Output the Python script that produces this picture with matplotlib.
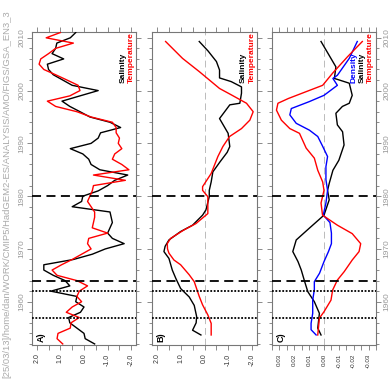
import numpy as np
import matplotlib
matplotlib.use("Agg")
import matplotlib.pyplot as plt
from matplotlib.ticker import MultipleLocator, FormatStrFormatter

plt.rcParams['font.family'] = ['Liberation Sans', 'DejaVu Sans']
plt.rcParams['axes.unicode_minus'] = False

# ---- panel A: annual anomalies
years_a = np.arange(1952, 2012)
sal_a = [-0.45, -0.05, 0.0, 0.3, 0.6, 0.65, 0.15, 0.0, 0.35, 0.3,
         1.4, 0.6, 0.8, 1.3, 1.7, 1.7, 0.45, -0.35, -0.9, -1.7,
         -1.2, -1.0, -1.1, -1.2, -1.15, -1.1, 0.5, 0.1, 0.05, -0.6,
         -1.0, -1.3, -1.85, -0.67, -0.3, -0.2, 0.05, 0.58, -0.3, -0.6,
         -0.7, -1.55, -1.1, -0.25, 0.17, 0.6, 0.93, 0.17, -0.6, 0.5,
         0.9, 1.3, 1.5, 1.55, 0.86, 1.35, 1.2, 1.15, 0.58, 0.35]
temp_a = [0.9, 1.14, 1.1, 0.58, 0.55, 0.2, 0.75, 0.5, 0.1, 0.3,
          0.2, -0.15, 0.3, 1.14, 1.35, 0.95, 0.5, 0.1, -0.3, -0.15,
          -0.2, -1.0, -0.35, -0.4, -0.45, -0.45, -0.3, -0.15, -0.25, -0.35,
          -0.4, -1.75, -0.4, -1.9, -1.6, -1.2, -1.3, -1.6, -1.45, -1.5,
          -1.36, -1.36, -1.2, -0.3, 0.3, 1.2, 1.55, 0.6, 0.17, 0.25,
          0.72, 1.2, 1.7, 1.9, 1.83, 1.5, 1.2, 0.45, 1.6, 1.0]

# ---- panel B: smoothed
years_b_sal = [1953.7, 1954.6, 1956, 1957.2, 1959.3, 1960.9, 1962.5, 1964.4, 1966,
               1968.2, 1969.5, 1970.5, 1971.7, 1973.3, 1974.5, 1976.4, 1977.4,
               1979.9, 1981.1, 1982.7, 1984.6, 1986.5, 1988.3, 1989.4, 1991.9,
               1994.7, 1997.3, 1997.6, 1999.5, 2000.7, 2001.7, 2002.4, 2003.9,
               2005.5, 2007.5, 2009.3]
sal_b = [0.15, 0.5, 0.35, 0.33, 0.43, 0.64, 1.0, 1.2, 1.35,
         1.49, 1.7, 1.65, 1.49, 1.0, 0.5, 0.08, -0.06,
         -0.2, -0.2, -0.28, -0.35, -0.65, -0.95, -1.06, -0.99,
         -0.63, -1.06, -1.48, -1.55, -1.55, -1.12, -0.63, -0.63,
         -0.5, -0.15, 0.22]
years_b_temp = [1953.7, 1955.9, 1957.5, 1959.4, 1961, 1963.8, 1965.1, 1967, 1967.9,
                1969.2, 1970, 1971, 1972, 1973.6, 1974.8, 1976.7, 1979.9, 1981.1,
                1981.8, 1984.3, 1987.5, 1989.4, 1991.3, 1992.8, 1994.4, 1996,
                1997.6, 1999.2, 2000.4, 2003.6, 2006.1, 2009.3]
temp_b = [-0.28, -0.28, -0.14, 0.08, 0.22, 0.43, 0.64, 1.0, 1.28,
          1.49, 1.55, 1.56, 1.42, 0.86, 0.36, -0.14, -0.14, 0.08,
          0.08, -0.28, -0.56, -0.77, -1.05, -1.55, -1.9, -2.04,
          -1.76, -1.12, -0.63, 0.22, 0.92, 1.63]

# ---- panel C: density contributions
years_c_sal = [1953.7, 1955, 1957.8, 1960, 1961.9, 1963.8, 1966, 1967.6, 1969.5,
               1971.7, 1973.9, 1976.4, 1979.3, 1981.1, 1982.4, 1984.9, 1986.8,
               1989.7, 1992.2, 1993.5, 1995.7, 1997, 1997.6, 1999.1, 2001.4,
               2002.3, 2004.5, 2009.3]
sal_c = [0.002, 0.0042, 0.0031, 0.0065, 0.0109, 0.013, 0.0153, 0.0175, 0.021,
         0.0187, 0.01, 0.0, -0.0035, -0.0024, -0.0035, -0.006, -0.01,
         -0.0135, -0.0125, -0.009, -0.008, -0.0124, -0.017, -0.019, -0.017,
         -0.007, -0.008, 0.002]
years_c_temp = [1953.7, 1956.9, 1958.1, 1960.3, 1962.2, 1964.1, 1965.7, 1967.9,
                1969.5, 1971, 1972.9, 1974.5, 1976.4, 1978.7, 1981.1, 1982.7,
                1984.9, 1987.2, 1989.1, 1991.9, 1992.8, 1994.4, 1996.3, 1997.6,
                1998.5, 1999.8, 2001, 2003.3, 2006.4, 2009.3]
temp_c = [0.0042, 0.0031, 0.0, -0.0047, -0.0058, -0.009, -0.0136, -0.019,
          -0.0236, -0.0247, -0.019, -0.009, 0.001, 0.002, 0.0, 0.0009,
          0.0042, 0.0065, 0.012, 0.0165, 0.023, 0.0287, 0.032, 0.031,
          0.024, 0.012, 0.0009, -0.0058, -0.0158, -0.0258]
years_c_dens = [1953.7, 1954.7, 1955.9, 1957.8, 1960.3, 1962.3, 1963.8, 1965.4,
                1967.6, 1969.5, 1971, 1973, 1975, 1976.4, 1978.7, 1981.1, 1983.1,
                1985.6, 1987.5, 1989.5, 1991.3, 1992.5, 1993.8, 1995.4, 1996.6,
                1997.9, 1999.1, 2001, 2002.3, 2002.9, 2006.1, 2009.3]
dens_c = [0.0053, 0.0087, 0.0087, 0.0076, 0.0076, 0.0065, 0.0065, 0.003,
          0.0, -0.003, -0.005, -0.005, -0.004, 0.0005, -0.0013, -0.0024, -0.0013,
          -0.0013, -0.0024, 0.001, 0.0042, 0.0098, 0.0187, 0.023, 0.022,
          0.01, 0.0, -0.009, -0.006, -0.009, -0.017, -0.0224]

dotted_years = [1957, 1962]
dashed_years = [1964, 1980]

W, H = 391, 380
fig = plt.figure(figsize=(W / 100, H / 100), dpi=100)


def add_ax(x0, x1, y0=32, y1=345):
    return fig.add_axes([x0 / W, 1 - y1 / H, (x1 - x0) / W, (y1 - y0) / H])


frame_col = '#777777'


def style(ax, lim, major, minor, fmt, lsize, zero=True):
    ax.set_ylim(1951.8, 2011.1)
    ax.set_xlim(lim, -lim)
    for s in ax.spines.values():
        s.set_color(frame_col)
        s.set_linewidth(0.8)
    ax.yaxis.set_major_locator(MultipleLocator(10))
    ax.yaxis.set_minor_locator(MultipleLocator(2))
    ax.xaxis.set_major_locator(MultipleLocator(major))
    ax.xaxis.set_minor_locator(MultipleLocator(minor))
    ax.xaxis.set_major_formatter(FormatStrFormatter(fmt))
    ax.tick_params(which='both', direction='out', color=frame_col, width=0.6,
                   top=True, bottom=True, left=True, right=True,
                   labelleft=False, labelright=False)
    ax.tick_params(axis='x', which='both', length=3.6)
    ax.tick_params(axis='y', which='major', length=3.6)
    ax.tick_params(axis='y', which='minor', length=2.0)
    ax.tick_params(axis='x', labelsize=lsize, labelcolor='#333333', pad=2.5,
                   labelrotation=90)
    for yr in dotted_years:
        ax.axhline(yr, color='black', lw=1.3, ls=(0, (1, 0.9)), zorder=4)
    for yr in dashed_years:
        ax.axhline(yr, color='black', lw=1.3, ls=(0, (5, 3)), zorder=4)
    if zero:
        ax.axvline(0, color='#bbbbbb', lw=0.7, ls=(0, (7, 4)), zorder=1)


axA = add_ax(32, 136)
axB = add_ax(152, 257)
axC = add_ax(272, 376)

style(axA, 2.2, 1.0, 0.5, '%.1f', 5.0, zero=False)
style(axB, 2.2, 1.0, 0.5, '%.1f', 5.0)
style(axC, 0.035, 0.01, 0.005, '%.2f', 4.5)

axA.plot(sal_a, years_a, color='black', lw=1.0, zorder=3)
axA.plot(temp_a, years_a, color='red', lw=1.0, zorder=3)

axB.plot(sal_b, years_b_sal, color='black', lw=1.0, zorder=3)
axB.plot(temp_b, years_b_temp, color='red', lw=1.0, zorder=3)

axC.plot(sal_c, years_c_sal, color='black', lw=1.0, zorder=3)
axC.plot(dens_c, years_c_dens, color='blue', lw=1.0, zorder=3)
axC.plot(temp_c, years_c_temp, color='red', lw=1.0, zorder=3)

# year labels, left of A and right of C
axA.tick_params(axis='y', labelleft=True, labelsize=6, labelcolor='#999999',
                labelrotation=90, pad=1.0)
axC.tick_params(axis='y', labelright=True, labelsize=6, labelcolor='#999999',
                labelrotation=90, pad=2.0)
for lab in axA.get_yticklabels() + axC.get_yticklabels():
    lab.set_va('center')

# panel letters
for ax, letter, xf in [(axA, 'A)', 0.05), (axB, 'B)', 0.045), (axC, 'C)', 0.045)]:
    ax.text(xf, 0.01, letter, transform=ax.transAxes, rotation=90,
            ha='left', va='bottom', fontsize=6.5, fontweight='bold', zorder=6)

# legends as coloured text
y_leg = 2001.4
legends = [
    (axA, [('Salinity', 'black', 0.875), ('Temperature', 'red', 0.952)]),
    (axB, [('Salinity', 'black', 0.867), ('Temperature', 'red', 0.952)]),
    (axC, [('Density', 'blue', 0.788), ('Salinity', 'black', 0.865),
           ('Temperature', 'red', 0.942)]),
]
for ax, items in legends:
    for txt, col, xf in items:
        ax.text(xf, y_leg, txt, transform=ax.get_yaxis_transform(),
                rotation=90, ha='center', va='bottom', color=col,
                fontsize=6, fontweight='bold', zorder=6)

fig.text(6.5 / W, 0.004,
         '[25/03/13]/home/dan/WORK/CMIP5/HadGEM2-ES/ANALYSIS/AMO/FIGS/GSA_EN3_3',
         rotation=90, ha='center', va='bottom', color='#aaaaaa', fontsize=6.8)

fig.savefig('out.png', dpi=100)
